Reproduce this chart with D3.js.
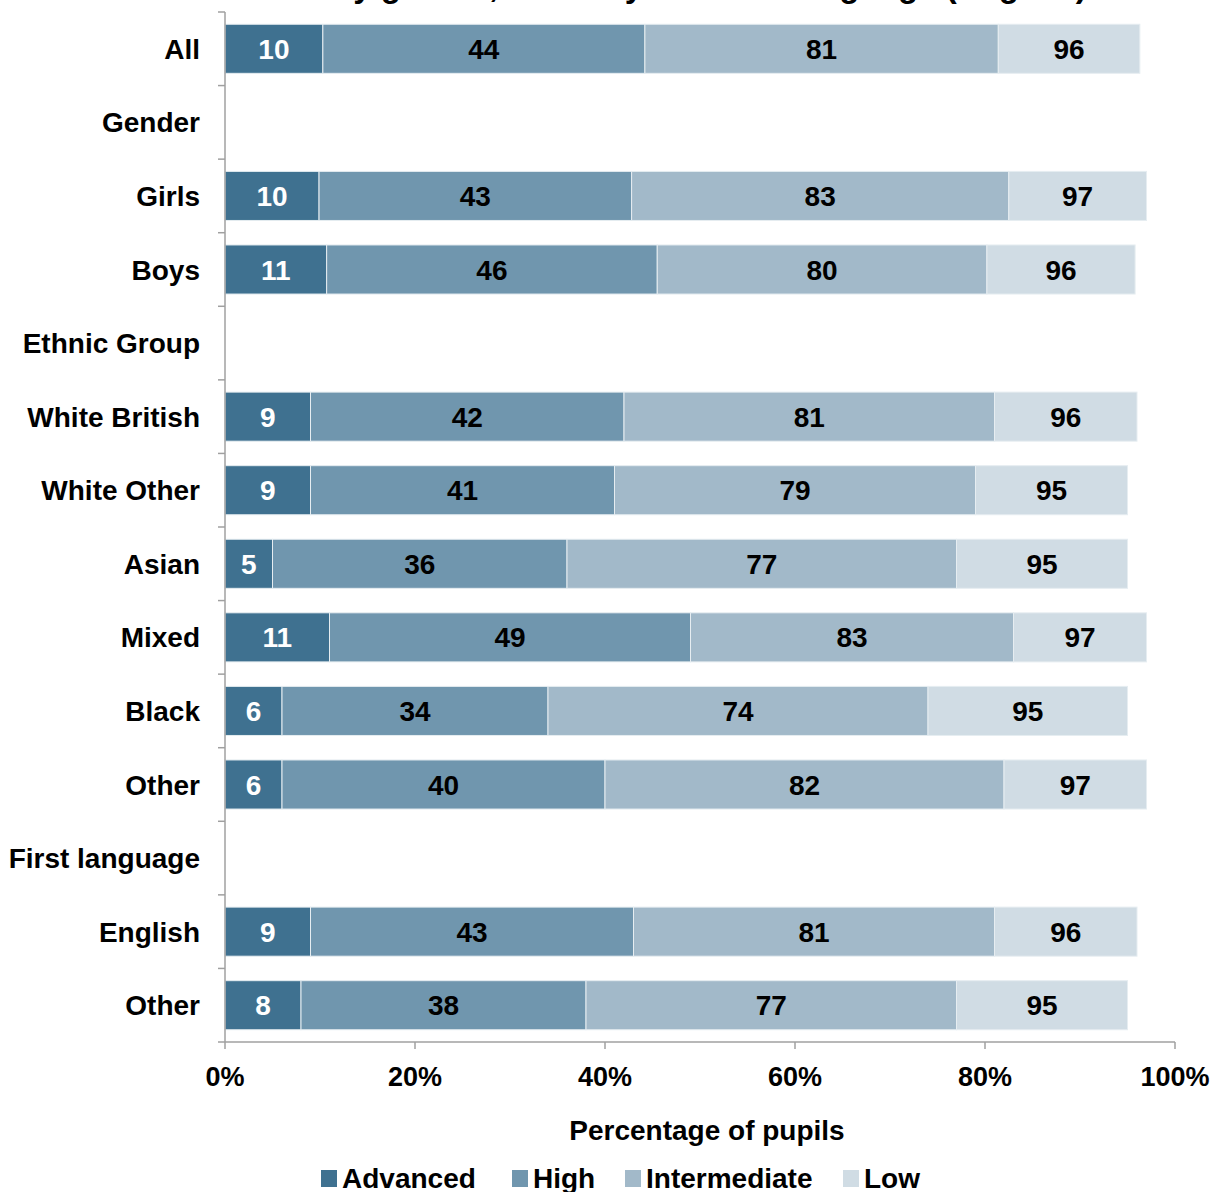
<!DOCTYPE html>
<html><head><meta charset="utf-8">
<script src="https://cdn.jsdelivr.net/npm/d3@7"></script>
<style>body{margin:0;background:#fff}svg{display:block;font-family:"Liberation Sans",Arial,sans-serif;font-weight:bold}</style>
</head><body>
<script>
const categories = ["All","Gender","Girls","Boys","Ethnic Group","White British","White Other","Asian","Mixed","Black","Other","First language","English","Other "];
const seriesNames = ["Advanced","High","Intermediate","Low"];
// cumulative percentages (end of each segment); null = heading row
const advanced     = [10.3,null,9.9,10.7,null,9,9,5,11,6,6,null,9,8];
const high         = [44.2,null,42.8,45.5,null,42,41,36,49,34,40,null,43,38];
const intermediate = [81.4,null,82.5,80.2,null,81,79,77,83,74,82,null,81,77];
const low          = [96.3,null,97,95.8,null,96,95,95,97,95,97,null,96,95];
const xTicks = [0,20,40,60,80,100];
const colors = ["#3f7190","#7096ae","#a2b9c9","#d0dce4"];
const labelColors = ["#fff","#000","#000","#000"];

const W=1214,H=1192;
const svg=d3.select("body").append("svg").attr("width",W).attr("height",H);
const x=d3.scaleLinear().domain([0,100]).range([225,1175]);
const y=d3.scaleBand().domain(categories).range([12,1042]).paddingInner(0.333).paddingOuter(0.1665);

// title (last line, mostly cut off at top as in the reference)
svg.append("text").attr("x",710).attr("y",-3).attr("text-anchor","middle")
  .attr("font-size",33).text("by gender, ethnicity and first language (English)");

const series=[advanced,high,intermediate,low];
const rows=[];
categories.forEach((c,i)=>{
  if(advanced[i]==null) return;
  let prev=0;
  series.forEach((s,k)=>{rows.push({c,k,x0:prev,x1:s[i]});prev=s[i];});
});
const g=svg.append("g");
g.selectAll("rect").data(rows).join("rect")
  .attr("x",d=>x(d.x0)).attr("width",d=>x(d.x1)-x(d.x0))
  .attr("y",d=>y(d.c)).attr("height",y.bandwidth())
  .attr("fill",d=>colors[d.k]).attr("stroke","#e6edf1").attr("stroke-width",1);
g.selectAll("text.v").data(rows).join("text").attr("class","v")
  .attr("x",d=>(x(d.x0)+x(d.x1))/2).attr("y",d=>y(d.c)+y.bandwidth()/2)
  .attr("dy","0.36em").attr("text-anchor","middle").attr("font-size",28)
  .attr("fill",d=>labelColors[d.k]).text(d=>Math.round(d.x1));

// axes
const axisCol="#a0a0a0";
svg.append("line").attr("x1",225).attr("x2",225).attr("y1",12).attr("y2",1042).attr("stroke",axisCol).attr("stroke-width",1.5);
svg.append("line").attr("x1",225).attr("x2",1175).attr("y1",1042).attr("y2",1042).attr("stroke",axisCol).attr("stroke-width",1.5);
const step=y.step();
const bounds=d3.range(categories.length+1).map(i=>12+i*step);
svg.selectAll("line.yt").data(bounds).join("line").attr("class","yt")
  .attr("x1",218).attr("x2",225).attr("y1",d=>d).attr("y2",d=>d).attr("stroke",axisCol).attr("stroke-width",1.5);
svg.selectAll("line.xt").data(xTicks).join("line").attr("class","xt")
  .attr("x1",d=>x(d)).attr("x2",d=>x(d)).attr("y1",1042).attr("y2",1049).attr("stroke",axisCol).attr("stroke-width",1.5);
svg.selectAll("text.xl").data(xTicks).join("text").attr("class","xl")
  .attr("x",d=>x(d)).attr("y",1086).attr("text-anchor","middle").attr("font-size",27).text(d=>d+"%");
svg.selectAll("text.yl").data(categories).join("text").attr("class","yl")
  .attr("x",200).attr("y",d=>y(d)+y.bandwidth()/2).attr("dy","0.36em")
  .attr("text-anchor","end").attr("font-size",28).text(d=>d.trim());

svg.append("text").attr("x",707).attr("y",1140).attr("text-anchor","middle").attr("font-size",28).text("Percentage of pupils");

// legend
const legX=[321,512,625,843];
const lg=svg.selectAll("g.leg").data(seriesNames).join("g").attr("class","leg")
  .attr("transform",(d,i)=>`translate(${legX[i]},0)`);
lg.append("rect").attr("x",0).attr("y",1170).attr("width",16).attr("height",17).attr("fill",(d,i)=>colors[i]);
lg.append("text").attr("x",21).attr("y",1188).attr("font-size",28).text(d=>d);
</script>
</body></html>
